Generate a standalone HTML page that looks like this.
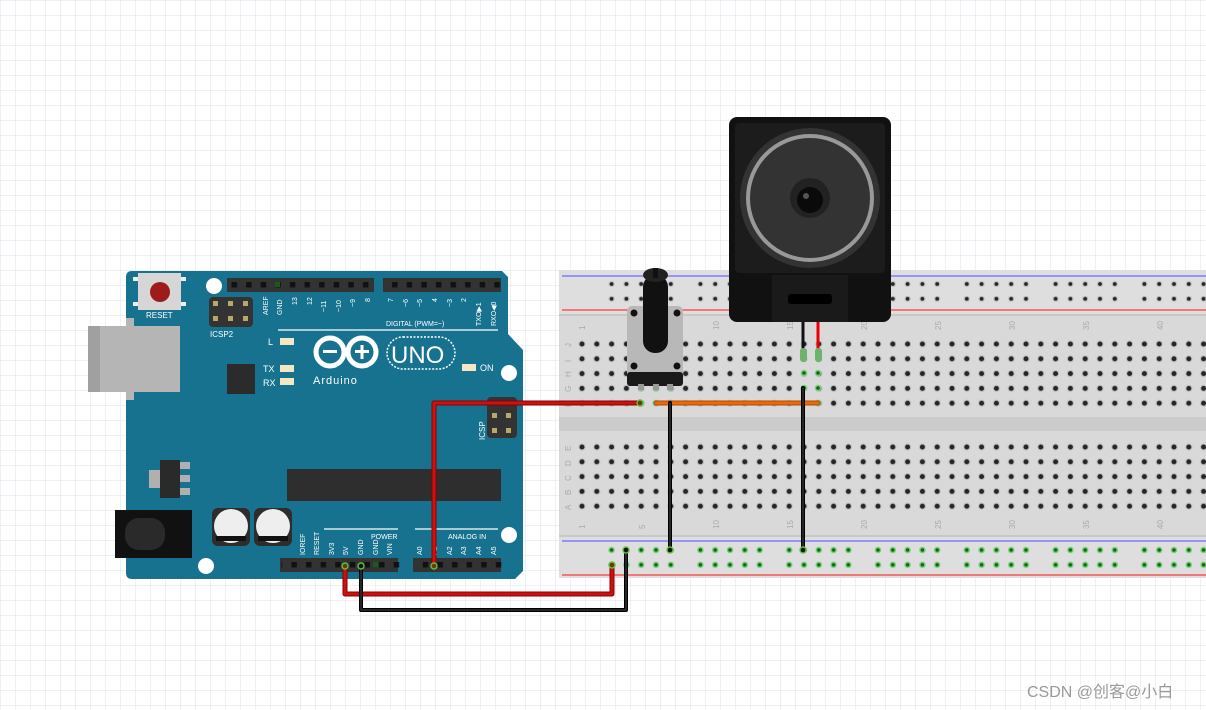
<!DOCTYPE html>
<html><head><meta charset="utf-8"><style>
html,body{margin:0;padding:0;background:#fff}
svg{display:block}
text{font-family:"Liberation Sans",sans-serif}
</style></head><body>
<svg width="1206" height="710" viewBox="0 0 1206 710" xmlns="http://www.w3.org/2000/svg">
<defs>
<pattern id="grid" width="15" height="15" patternUnits="userSpaceOnUse">
<path d="M15 0H0V15" fill="none" stroke="#dde2ea" stroke-width="1"/>
</pattern>
<pattern id="hA" x="574.6" y="336.6" width="14.8" height="14.8" patternUnits="userSpaceOnUse">
<circle cx="7.4" cy="7.4" r="3.6" fill="#c0c0c0"/><circle cx="7.4" cy="7.4" r="2.5" fill="#262626"/>
</pattern>
<pattern id="hB" x="574.6" y="439.6" width="14.8" height="14.8" patternUnits="userSpaceOnUse">
<circle cx="7.4" cy="7.4" r="3.6" fill="#c0c0c0"/><circle cx="7.4" cy="7.4" r="2.5" fill="#262626"/>
</pattern>
<pattern id="rT" x="604.2" y="276.6" width="88.8" height="29.6" patternUnits="userSpaceOnUse">
<g fill="#262626" stroke="#c0c0c0" stroke-width="1.2">
<circle cx="7.4" cy="7.4" r="2.5"/><circle cx="22.2" cy="7.4" r="2.5"/><circle cx="37" cy="7.4" r="2.5"/><circle cx="51.8" cy="7.4" r="2.5"/><circle cx="66.6" cy="7.4" r="2.5"/>
<circle cx="7.4" cy="22.2" r="2.5"/><circle cx="22.2" cy="22.2" r="2.5"/><circle cx="37" cy="22.2" r="2.5"/><circle cx="51.8" cy="22.2" r="2.5"/><circle cx="66.6" cy="22.2" r="2.5"/>
</g></pattern>
<pattern id="rB" x="604.2" y="542.6" width="88.8" height="29.6" patternUnits="userSpaceOnUse">
<g fill="#1d5e1d" stroke="#6fd46f" stroke-width="1.5">
<circle cx="7.4" cy="7.4" r="2.5"/><circle cx="22.2" cy="7.4" r="2.5"/><circle cx="37" cy="7.4" r="2.5"/><circle cx="51.8" cy="7.4" r="2.5"/><circle cx="66.6" cy="7.4" r="2.5"/>
<circle cx="7.4" cy="22.2" r="2.5"/><circle cx="22.2" cy="22.2" r="2.5"/><circle cx="37" cy="22.2" r="2.5"/><circle cx="51.8" cy="22.2" r="2.5"/><circle cx="66.6" cy="22.2" r="2.5"/>
</g></pattern>
<pattern id="pin" x="227" y="278" width="14.6" height="14" patternUnits="userSpaceOnUse">
<rect x="4.5" y="4" width="5.5" height="5.5" fill="#111"/>
</pattern>
</defs>
<rect width="1206" height="710" fill="#fff"/>
<rect width="1206" height="710" fill="url(#grid)"/>

<!-- Breadboard -->
<rect x="559" y="270" width="647" height="308" fill="#d9d9d9"/>
<rect x="559" y="270" width="647" height="45" fill="#dedede"/>
<rect x="559" y="537" width="647" height="41" fill="#dedede"/>
<line x1="559" y1="315" x2="1206" y2="315" stroke="#c8c8c8" stroke-width="2"/>
<line x1="559" y1="536" x2="1206" y2="536" stroke="#c8c8c8" stroke-width="2"/>
<line x1="562" y1="276" x2="1206" y2="276" stroke="#6b6bff" stroke-width="1.2"/>
<line x1="562" y1="310" x2="1206" y2="310" stroke="#ff3b3b" stroke-width="1.2"/>
<line x1="562" y1="541" x2="1206" y2="541" stroke="#6b6bff" stroke-width="1.2"/>
<line x1="562" y1="575" x2="1206" y2="575" stroke="#ff3b3b" stroke-width="1.2"/>
<rect x="559" y="417" width="647" height="14" fill="#cbcbcb"/>
<rect x="574" y="336" width="632" height="74" fill="url(#hA)"/>
<rect x="574" y="439" width="632" height="74" fill="url(#hB)"/>
<rect x="600" y="276" width="606" height="30" fill="url(#rT)"/>
<rect x="600" y="542" width="606" height="30" fill="url(#rB)"/>
<g fill="#aaa" font-size="8">
<g transform="translate(585,330) rotate(-90)"><text>1</text></g>
<g transform="translate(719,330) rotate(-90)"><text>10</text></g>
<g transform="translate(793,330) rotate(-90)"><text>15</text></g>
<g transform="translate(867,330) rotate(-90)"><text>20</text></g>
<g transform="translate(941,330) rotate(-90)"><text>25</text></g>
<g transform="translate(1015,330) rotate(-90)"><text>30</text></g>
<g transform="translate(1089,330) rotate(-90)"><text>35</text></g>
<g transform="translate(1163,330) rotate(-90)"><text>40</text></g>
<g transform="translate(585,529) rotate(-90)"><text>1</text></g>
<g transform="translate(645,529) rotate(-90)"><text>5</text></g>
<g transform="translate(719,529) rotate(-90)"><text>10</text></g>
<g transform="translate(793,529) rotate(-90)"><text>15</text></g>
<g transform="translate(867,529) rotate(-90)"><text>20</text></g>
<g transform="translate(941,529) rotate(-90)"><text>25</text></g>
<g transform="translate(1015,529) rotate(-90)"><text>30</text></g>
<g transform="translate(1089,529) rotate(-90)"><text>35</text></g>
<g transform="translate(1163,529) rotate(-90)"><text>40</text></g>
<g transform="translate(571,347) rotate(-90)"><text>J</text></g>
<g transform="translate(571,362) rotate(-90)"><text>I</text></g>
<g transform="translate(571,377) rotate(-90)"><text>H</text></g>
<g transform="translate(571,392) rotate(-90)"><text>G</text></g>
<g transform="translate(571,407) rotate(-90)"><text>F</text></g>
<g transform="translate(571,451) rotate(-90)"><text>E</text></g>
<g transform="translate(571,466) rotate(-90)"><text>D</text></g>
<g transform="translate(571,481) rotate(-90)"><text>C</text></g>
<g transform="translate(571,495) rotate(-90)"><text>B</text></g>
<g transform="translate(571,510) rotate(-90)"><text>A</text></g>
</g>
<g fill="#1d5e1d" stroke="#6fd46f" stroke-width="1.4">
<circle cx="641" cy="388" r="2.5"/><circle cx="656" cy="388" r="2.5"/><circle cx="670" cy="388" r="2.5"/>
<circle cx="641" cy="403" r="2.5"/><circle cx="656" cy="403" r="2.5"/><circle cx="670" cy="403" r="2.5"/>
<circle cx="804" cy="373" r="2.5"/><circle cx="818" cy="373" r="2.5"/>
<circle cx="804" cy="388" r="2.5"/><circle cx="818" cy="388" r="2.5"/>
<circle cx="818" cy="403" r="2.5"/>
</g>

<!-- Arduino -->
<path d="M132 271 H502 L508 277 V334 L523 350 V571 L515 579 H132 Q126 579 126 573 V277 Q126 271 132 271Z" fill="#17728f"/>
<rect x="88" y="326" width="92" height="66" fill="#b5b5b5"/>
<rect x="88" y="326" width="12" height="66" fill="#a0a0a0"/>
<rect x="126" y="318" width="8" height="8" fill="#b5b5b5"/><rect x="126" y="392" width="8" height="8" fill="#b5b5b5"/>
<rect x="138" y="273" width="43" height="37" fill="#d6d6d6"/>
<rect x="133" y="277" width="5" height="4" fill="#eee"/><rect x="181" y="277" width="5" height="4" fill="#eee"/>
<rect x="133" y="302" width="5" height="4" fill="#eee"/><rect x="181" y="302" width="5" height="4" fill="#eee"/>
<circle cx="160" cy="292" r="10" fill="#9e1b1b"/>
<text x="146" y="318" font-size="8" fill="#fff">RESET</text>
<circle cx="214" cy="286" r="8" fill="#fff"/>
<circle cx="509" cy="373" r="8" fill="#fff"/>
<circle cx="509" cy="535" r="8" fill="#fff"/>
<circle cx="206" cy="566" r="8" fill="#fff"/>
<rect x="209" y="297" width="44" height="30" rx="4" fill="#333"/>
<g fill="#b8a86a"><rect x="213" y="301" width="5" height="5"/><rect x="228" y="301" width="5" height="5"/><rect x="243" y="301" width="5" height="5"/><rect x="213" y="316" width="5" height="5"/><rect x="228" y="316" width="5" height="5"/><rect x="243" y="316" width="5" height="5"/></g>
<text x="210" y="337" font-size="8" fill="#fff">ICSP2</text>
<rect x="227" y="278" width="147" height="14" fill="#333"/>
<rect x="227" y="278" width="147" height="14" fill="url(#pin)"/>
<rect x="383" y="278" width="118" height="14" fill="#333"/>
<rect x="383" y="278" width="118" height="14" fill="url(#pin)"/>
<rect x="275" y="282" width="5" height="5" fill="#1a5a1a"/>
<g fill="#fff" font-size="7">
<g transform="translate(268,315) rotate(-90)"><text>AREF</text></g>
<g transform="translate(282,315) rotate(-90)"><text>GND</text></g>
<g transform="translate(297,305) rotate(-90)"><text>13</text></g>
<g transform="translate(312,305) rotate(-90)"><text>12</text></g>
<g transform="translate(326,312) rotate(-90)"><text>~11</text></g>
<g transform="translate(341,312) rotate(-90)"><text>~10</text></g>
<g transform="translate(355,307) rotate(-90)"><text>~9</text></g>
<g transform="translate(370,302) rotate(-90)"><text>8</text></g>
<g transform="translate(393,302) rotate(-90)"><text>7</text></g>
<g transform="translate(408,307) rotate(-90)"><text>~6</text></g>
<g transform="translate(422,307) rotate(-90)"><text>~5</text></g>
<g transform="translate(437,302) rotate(-90)"><text>4</text></g>
<g transform="translate(452,307) rotate(-90)"><text>~3</text></g>
<g transform="translate(466,302) rotate(-90)"><text>2</text></g>
<g transform="translate(481,326) rotate(-90)"><text>TXO▶1</text></g>
<g transform="translate(496,326) rotate(-90)"><text>RXO◀0</text></g>
</g>
<text x="386" y="326" font-size="7" fill="#fff">DIGITAL (PWM=~)</text>
<line x1="278" y1="330" x2="498" y2="330" stroke="#fff" stroke-width="1.2"/>
<text x="268" y="345" font-size="9" fill="#fff">L</text>
<rect x="280" y="338" width="14" height="7" fill="#f3e6c3"/>
<text x="263" y="372" font-size="9" fill="#fff">TX</text><rect x="280" y="365" width="14" height="7" fill="#f3e6c3"/>
<text x="263" y="386" font-size="9" fill="#fff">RX</text><rect x="280" y="378" width="14" height="7" fill="#f3e6c3"/>
<rect x="462" y="364" width="14" height="7" fill="#f3e6c3"/><text x="480" y="371" font-size="9" fill="#fff">ON</text>
<rect x="227" y="364" width="28" height="30" fill="#2b2b2b"/>
<circle cx="330" cy="352" r="14" fill="none" stroke="#fff" stroke-width="5"/>
<circle cx="362" cy="352" r="14" fill="none" stroke="#fff" stroke-width="5"/>
<rect x="323" y="350" width="14" height="3" fill="#fff"/>
<rect x="355" y="350" width="14" height="3" fill="#fff"/><rect x="360.5" y="345" width="3" height="14" fill="#fff"/>
<text x="313" y="384" font-size="11" fill="#fff" letter-spacing="1">Arduino</text>
<rect x="387" y="337" width="68" height="32" rx="16" fill="none" stroke="#fff" stroke-width="1.5" stroke-dasharray="2 1.5"/>
<text x="391" y="363" font-size="24" fill="#fff">UNO</text>
<rect x="487" y="397" width="30" height="41" rx="4" fill="#333"/>
<g fill="#b8a86a"><rect x="492" y="413" width="5" height="5"/><rect x="506" y="413" width="5" height="5"/><rect x="492" y="428" width="5" height="5"/><rect x="506" y="428" width="5" height="5"/></g>
<g transform="translate(485,440) rotate(-90)"><text font-size="8" fill="#fff">ICSP</text></g>
<rect x="287" y="469" width="214" height="32" fill="#2e2e2e"/>
<rect x="149" y="470" width="12" height="18" fill="#b0b0b0"/>
<rect x="160" y="460" width="20" height="38" fill="#2a2a2a"/>
<rect x="180" y="462" width="10" height="7" fill="#b0b0b0"/><rect x="180" y="475" width="10" height="7" fill="#b0b0b0"/><rect x="180" y="488" width="10" height="7" fill="#b0b0b0"/>
<rect x="115" y="510" width="77" height="48" fill="#111"/>
<rect x="125" y="518" width="40" height="32" rx="14" fill="#2a2a2a"/>
<rect x="212" y="508" width="38" height="38" rx="6" fill="#2d2d2d"/>
<circle cx="231" cy="526" r="17" fill="#eee"/><path d="M215 537 H247 A17 17 0 0 1 244 539 H218 A17 17 0 0 1 215 537Z" fill="#111"/><rect x="216" y="536" width="30" height="5" fill="#111"/>
<rect x="254" y="508" width="38" height="38" rx="6" fill="#2d2d2d"/>
<circle cx="273" cy="526" r="17" fill="#eee"/><rect x="258" y="536" width="30" height="5" fill="#111"/>
<line x1="324" y1="529" x2="398" y2="529" stroke="#fff" stroke-width="1.2"/>
<line x1="415" y1="529" x2="498" y2="529" stroke="#fff" stroke-width="1.2"/>
<text x="371" y="539" font-size="7" fill="#fff">POWER</text>
<text x="448" y="539" font-size="7" fill="#fff">ANALOG IN</text>
<g fill="#fff" font-size="7">
<g transform="translate(305,555) rotate(-90)"><text>IOREF</text></g>
<g transform="translate(319,555) rotate(-90)"><text>RESET</text></g>
<g transform="translate(334,555) rotate(-90)"><text>3V3</text></g>
<g transform="translate(348,555) rotate(-90)"><text>5V</text></g>
<g transform="translate(363,555) rotate(-90)"><text>GND</text></g>
<g transform="translate(378,555) rotate(-90)"><text>GND</text></g>
<g transform="translate(392,555) rotate(-90)"><text>VIN</text></g>
<g transform="translate(422,555) rotate(-90)"><text>A0</text></g>
<g transform="translate(437,555) rotate(-90)"><text>A1</text></g>
<g transform="translate(452,555) rotate(-90)"><text>A2</text></g>
<g transform="translate(466,555) rotate(-90)"><text>A3</text></g>
<g transform="translate(481,555) rotate(-90)"><text>A4</text></g>
<g transform="translate(496,555) rotate(-90)"><text>A5</text></g>
</g>
<rect x="280" y="558" width="118" height="14" fill="#333"/>
<rect x="280" y="558" width="118" height="14" fill="url(#pin)" transform="translate(1.5,0)"/>
<rect x="413" y="558" width="88" height="14" fill="#333"/>
<rect x="413" y="558" width="88" height="14" fill="url(#pin)" transform="translate(1.5,0)"/>
<rect x="373" y="562" width="5" height="5" fill="#1a5a1a"/>

<!-- Speaker -->
<rect x="729" y="117" width="162" height="205" rx="8" fill="#111"/>
<rect x="735" y="123" width="150" height="150" rx="4" fill="#1c1c1c"/>
<circle cx="810" cy="198" r="70" fill="#333"/>
<circle cx="810" cy="198" r="64" fill="#999"/>
<circle cx="810" cy="198" r="60" fill="#333"/>
<circle cx="810" cy="198" r="20" fill="#222"/>
<circle cx="810" cy="200" r="13" fill="#0a0a0a"/>
<circle cx="806" cy="196" r="3" fill="#555"/>
<rect x="772" y="275" width="76" height="47" fill="#1a1a1a"/>
<rect x="788" y="294" width="44" height="10" rx="3" fill="#000"/>
<line x1="803" y1="322" x2="803" y2="360" stroke="#111" stroke-width="3"/>
<line x1="818" y1="322" x2="818" y2="360" stroke="#e00" stroke-width="3"/>
<rect x="800" y="348" width="7" height="14" rx="3" fill="#6db36d"/>
<rect x="815" y="348" width="7" height="14" rx="3" fill="#6db36d"/>

<!-- Potentiometer -->
<rect x="627" y="306" width="56" height="80" rx="5" fill="#b8b8b8"/>
<rect x="627" y="372" width="56" height="14" rx="3" fill="#1a1a1a"/>
<circle cx="634" cy="313" r="3.5" fill="#111"/><circle cx="677" cy="313" r="3.5" fill="#111"/>
<circle cx="634" cy="366" r="3.5" fill="#111"/><circle cx="677" cy="366" r="3.5" fill="#111"/>
<rect x="643" y="275" width="25" height="78" rx="12" fill="#111"/>
<ellipse cx="655.5" cy="275" rx="12.5" ry="7" fill="#222"/>
<rect x="653" y="268" width="5" height="10" fill="#111"/>
<rect x="638" y="384" width="6" height="6" fill="#999"/><rect x="653" y="384" width="6" height="6" fill="#999"/><rect x="667" y="384" width="6" height="6" fill="#999"/>

<!-- Wires -->
<g fill="none" stroke-linecap="round" stroke-linejoin="round">
<polyline points="434,566 434,403 640,403" stroke="#8a0000" stroke-width="5"/>
<polyline points="434,566 434,403 640,403" stroke="#cc1111" stroke-width="3"/>
<line x1="656" y1="403" x2="818" y2="403" stroke="#b24a00" stroke-width="5"/>
<line x1="656" y1="403" x2="818" y2="403" stroke="#e86a0a" stroke-width="3"/>
<line x1="670" y1="403" x2="670" y2="550" stroke="#000" stroke-width="4"/>
<line x1="670" y1="403" x2="670" y2="550" stroke="#333" stroke-width="1.5"/>
<line x1="803" y1="388" x2="803" y2="550" stroke="#000" stroke-width="4"/>
<line x1="803" y1="388" x2="803" y2="550" stroke="#333" stroke-width="1.5"/>
<polyline points="345,566 345,594 612,594 612,565" stroke="#8a0000" stroke-width="5"/>
<polyline points="345,566 345,594 612,594 612,565" stroke="#cc1111" stroke-width="3"/>
<polyline points="361,566 361,610 626,610 626,550" stroke="#000" stroke-width="4"/>
<polyline points="361,566 361,610 626,610 626,550" stroke="#333" stroke-width="1.5"/>
</g>
<g fill="#6b3a00" stroke="#5fbf3f" stroke-width="1.4">
<circle cx="434" cy="566" r="3"/><circle cx="345" cy="566" r="3"/><circle cx="612" cy="565" r="3"/><circle cx="640" cy="403" r="3"/>
</g>
<g fill="#111" stroke="#5fbf3f" stroke-width="1.4">
<circle cx="361" cy="566" r="3"/><circle cx="626" cy="550" r="3"/><circle cx="670" cy="550" r="3"/><circle cx="803" cy="550" r="3"/>
</g>

<text x="1027" y="697" font-size="16" fill="#9a9a9a" font-family="Liberation Sans, Noto Sans CJK SC, sans-serif">CSDN @创客@小白</text>
</svg>
</body></html>
